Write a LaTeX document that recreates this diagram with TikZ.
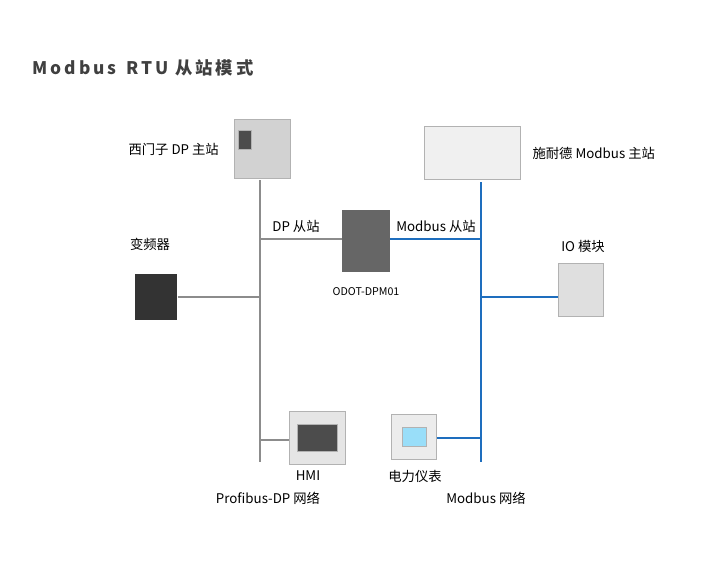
\documentclass[tikz,border=0pt]{standalone}
\usepackage{fontspec}
\setmainfont{Noto Sans CJK SC}
\usetikzlibrary{positioning}
\definecolor{busgray}{RGB}{140,140,140}
\definecolor{busblue}{RGB}{30,110,190}
\tikzset{
  lbl/.style={font=\fontsize{10}{12}\selectfont, text=black, inner sep=1pt},
  dev/.style={draw=gray!60, fill=#1, inner sep=0pt},
  gbus/.style={draw=busgray, line width=2.2pt},
  bbus/.style={draw=busblue, line width=2.2pt}
}
\begin{document}
\begin{tikzpicture}[x=0.75pt,y=-0.75pt]
\useasboundingbox (0,0) rectangle (710,578);
% title
\node[anchor=west, font=\fontsize{13}{15}\selectfont\bfseries, text=black!75] (title) at (28,68)
  {M\,o\,d\,b\,u\,s\, \,R\,T\,U \,从\,站\,模\,式};
% devices
\node[dev=gray!35, minimum width=42pt, minimum height=44pt] (s7) at (262,149) {};
\node[dev=black!70, minimum width=10pt, minimum height=14pt] at (245,140) {};
\node[dev=gray!12, minimum width=72pt, minimum height=40pt] (tm) at (472,153) {};
\node[dev=gray!80!black, draw=none, minimum width=36pt, minimum height=46pt] (gw) at (366,241) {};
\node[dev=black!80, draw=none, minimum width=32pt, minimum height=34pt] (vfd) at (156,297) {};
\node[dev=gray!25, minimum width=34pt, minimum height=40pt] (io) at (581,290) {};
\node[dev=gray!20, minimum width=42pt, minimum height=40pt] (hmi) at (317,438) {};
\node[dev=black!70, minimum width=30pt, minimum height=20pt] at (317,438) {};
\node[dev=gray!15, minimum width=34pt, minimum height=34pt] (pm) at (414,437) {};
\node[dev=cyan!40, minimum width=18pt, minimum height=14pt] at (414,437) {};
% labels
\node[lbl, left=10pt of s7] {西门子 DP 主站};
\node[lbl, right=8pt of tm] {施耐德 Modbus 主站};
\node[lbl] (dps) at (296,226) {DP 从站};
\node[lbl] (mbs) at (436,226) {Modbus 从站};
\node[lbl, font=\fontsize{8}{10}\selectfont] at (366,292) {ODOT-DPM01};
\node[lbl] at (150,244) {变频器};
\node[lbl] at (583,246) {IO 模块};
\node[lbl] at (308,476) {HMI};
\node[lbl] at (415,476) {电力仪表};
\node[lbl] at (268,498) {Profibus-DP 网络};
\node[lbl] at (486,498) {Modbus 网络};
% buses
\coordinate (gtop) at (260,180); \coordinate (gbot) at (260,462);
\coordinate (btop) at (481,182); \coordinate (bbot) at (481,462);
\draw[gbus] (gtop) -- (gbot);
\draw[bbus] (btop) -- (bbot);
\draw[gbus] (gw.west |- 0,239) -- (260,239);
\draw[gbus] (vfd.east |- 0,297) -- (260,297);
\draw[gbus] (hmi.west |- 0,440) -- (260,440);
\draw[bbus] (gw.east |- 0,239) -- (481,239);
\draw[bbus] (io.west |- 0,297) -- (481,297);
\draw[bbus] (pm.east |- 0,438) -- (481,438);
\end{tikzpicture}
\end{document}
